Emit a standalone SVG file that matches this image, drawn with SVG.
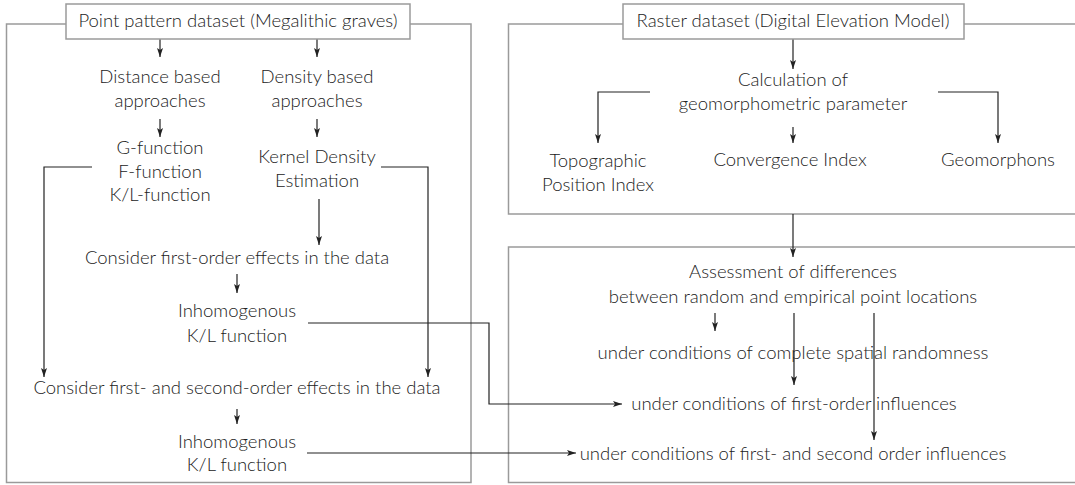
<svg xmlns="http://www.w3.org/2000/svg" width="1075" height="485" viewBox="0 0 1075 485">
<style>
.panel{fill:none;stroke:#9a9a9a;stroke-width:1.5}
.hdr{fill:#fff;stroke:#9a9a9a;stroke-width:1.5}
.t{font-family:Lato,"Source Sans Pro","Liberation Sans",sans-serif;font-weight:300;font-size:18.5px;fill:#222;text-anchor:middle}
.c{fill:none;stroke:#222;stroke-width:1.2}
</style>
<defs>
<marker id="ah" viewBox="0 0 9 6" refX="9" refY="3" markerWidth="9" markerHeight="6" markerUnits="userSpaceOnUse" orient="auto">
<path d="M0,0 L9,3 L0,6 L2,3 z" fill="#222"/>
</marker>
</defs>
<rect width="1075" height="485" fill="#fff"/>
<g id="panels">
<rect id="panel-left" class="panel" x="6.5" y="24" width="464.5" height="458.5"/>
<rect id="panel-right-top" class="panel" x="508.5" y="24" width="600" height="190"/>
<rect id="panel-right-bottom" class="panel" x="508.5" y="247" width="600" height="235.5"/>
</g>
<g id="connectors">
<path class="c" d="M160,39 V57" marker-end="url(#ah)"/>
<path class="c" d="M317,39 V57" marker-end="url(#ah)"/>
<path class="c" d="M160,119 V137" marker-end="url(#ah)"/>
<path class="c" d="M317,119 V137" marker-end="url(#ah)"/>
<path class="c" d="M92,167 H44 V377" marker-end="url(#ah)"/>
<path class="c" d="M381,167 H428 V377" marker-end="url(#ah)"/>
<path class="c" d="M319,199 V245" marker-end="url(#ah)"/>
<path class="c" d="M237,274 V293" marker-end="url(#ah)"/>
<path class="c" d="M237,409 V424" marker-end="url(#ah)"/>
<path class="c" d="M308,323 H489 V404 H622" marker-end="url(#ah)"/>
<path class="c" d="M307,453 H576" marker-end="url(#ah)"/>
<path class="c" d="M793,39 V69" marker-end="url(#ah)"/>
<path class="c" d="M650,92 H598 V143" marker-end="url(#ah)"/>
<path class="c" d="M938,92 H998 V143" marker-end="url(#ah)"/>
<path class="c" d="M793,127 V143" marker-end="url(#ah)"/>
<path class="c" d="M793,214 V257" marker-end="url(#ah)"/>
<path class="c" d="M715,313 V331" marker-end="url(#ah)"/>
<path class="c" d="M794,313 V385" marker-end="url(#ah)"/>
<path class="c" d="M874,313 V440" marker-end="url(#ah)"/>
</g>
<g id="point-dataset">
<rect class="hdr" x="66" y="4" width="344" height="35"/>
<text class="t" x="238" y="27">Point pattern dataset (Megalithic graves)</text>
</g>
<g id="distance-based"><text class="t" x="160" y="83">Distance based</text><text class="t" x="160" y="107">approaches</text></g>
<g id="density-based"><text class="t" x="317" y="83">Density based</text><text class="t" x="317" y="107">approaches</text></g>
<g id="functions"><text class="t" x="160" y="154">G-function</text><text class="t" x="160" y="178">F-function</text><text class="t" x="160" y="201">K/L-function</text></g>
<g id="kde"><text class="t" x="317" y="163">Kernel Density</text><text class="t" x="317" y="187">Estimation</text></g>
<g id="first-order"><text class="t" x="237" y="264">Consider first-order effects in the data</text></g>
<g id="inhom1"><text class="t" x="237" y="317">Inhomogenous</text><text class="t" x="237" y="342">K/L function</text></g>
<g id="second-order"><text class="t" x="237" y="394">Consider first- and second-order effects in the data</text></g>
<g id="inhom2"><text class="t" x="237" y="448">Inhomogenous</text><text class="t" x="237" y="471">K/L function</text></g>
<g id="raster-dataset">
<rect class="hdr" x="623" y="4" width="341" height="35"/>
<text class="t" x="793" y="27">Raster dataset (Digital Elevation Model)</text>
</g>
<g id="calculation"><text class="t" x="793" y="86">Calculation of</text><text class="t" x="793" y="110">geomorphometric parameter</text></g>
<g id="tpi"><text class="t" x="598" y="167">Topographic</text><text class="t" x="598" y="191">Position Index</text></g>
<g id="convergence"><text class="t" x="790" y="166">Convergence Index</text></g>
<g id="geomorphons"><text class="t" x="998" y="166">Geomorphons</text></g>
<g id="assessment"><text class="t" x="793" y="278">Assessment of differences</text><text class="t" x="793" y="303">between random and empirical point locations</text></g>
<g id="csr"><text class="t" x="793" y="359">under conditions of complete spatial randomness</text></g>
<g id="first-influences"><text class="t" x="794" y="410">under conditions of first-order influences</text></g>
<g id="second-influences"><text class="t" x="793" y="460">under conditions of first- and second order influences</text></g>
</svg>
